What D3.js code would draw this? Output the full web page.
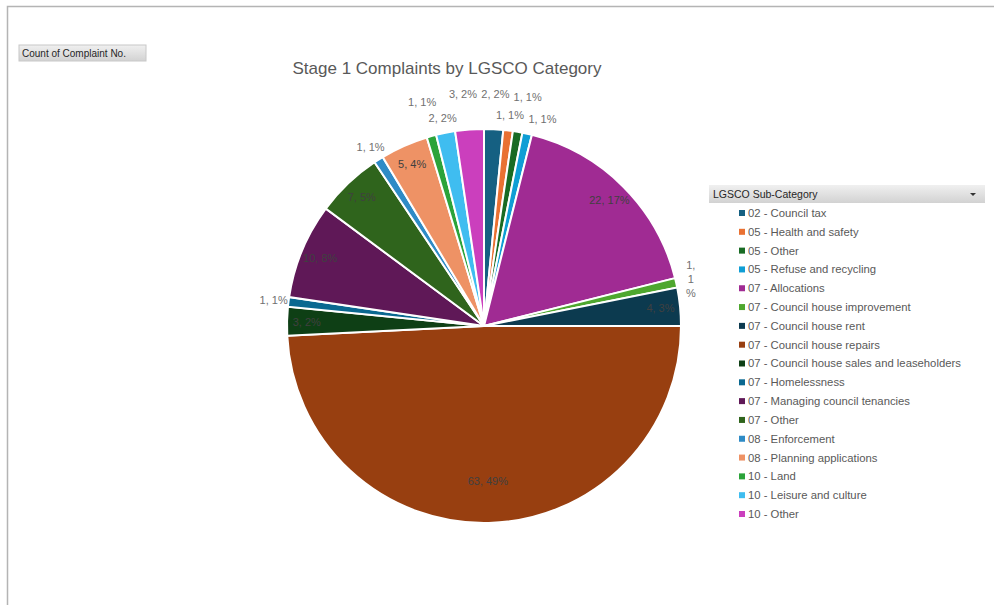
<!DOCTYPE html>
<html>
<head>
<meta charset="utf-8">
<script src="https://cdn.jsdelivr.net/npm/d3@7"></script>
<style>
  body { margin: 0; background: #fff; }
  text { font-family: "Liberation Sans", Arial, sans-serif; }
</style>
</head>
<body>
<div id="chart"></div>
<script>
// Data
const categories = [
  "02 - Council tax", "05 - Health and safety", "05 - Other", "05 - Refuse and recycling",
  "07 - Allocations", "07 - Council house improvement", "07 - Council house rent",
  "07 - Council house repairs", "07 - Council house sales and leaseholders",
  "07 - Homelessness", "07 - Managing council tenancies", "07 - Other",
  "08 - Enforcement", "08 - Planning applications", "10 - Land",
  "10 - Leisure and culture", "10 - Other"
];
const counts = [2, 1, 1, 1, 22, 1, 4, 63, 3, 1, 10, 7, 1, 5, 1, 2, 3];
const colors = [
  "#156082", "#e97132", "#196b24", "#0f9ed5", "#a02b93", "#4ea72e", "#0c3a4f",
  "#983f10", "#0e3f15", "#0a6890", "#5f1857", "#2f641c",
  "#2e8bc6", "#ee9265", "#2ba33a", "#3fbdf0", "#cb3fbd"
];
const chartTitle = "Stage 1 Complaints by LGSCO Category";
const fieldButton = "Count of Complaint No.";
const legendTitle = "LGSCO Sub-Category";

const width = 994, height = 605;
const cx = 484, cy = 326, radius = 197;
const plotRight = 697;

const svg = d3.select("#chart").append("svg")
  .attr("width", width)
  .attr("height", height);

// frame
svg.append("path")
  .attr("d", `M7.5,${height} V6.5 H${width}`)
  .attr("fill", "none")
  .attr("stroke", "#b4b4b4")
  .attr("stroke-width", 1.5);

const defs = svg.append("defs");
const grad = defs.append("linearGradient").attr("id", "hdr").attr("x1", 0).attr("x2", 0).attr("y1", 0).attr("y2", 1);
grad.append("stop").attr("offset", "0%").attr("stop-color", "#f0f0f0");
grad.append("stop").attr("offset", "100%").attr("stop-color", "#d2d2d2");

// field button
svg.append("rect")
  .attr("x", 19).attr("y", 45).attr("width", 127).attr("height", 16)
  .attr("fill", "url(#hdr)").attr("stroke", "#c8c8c8");
svg.append("text")
  .attr("x", 22).attr("y", 57)
  .attr("font-size", 10).attr("fill", "#262626")
  .text(fieldButton);

// title
svg.append("text")
  .attr("x", 447).attr("y", 74)
  .attr("text-anchor", "middle")
  .attr("font-size", 17).attr("fill", "#595959")
  .text(chartTitle);

const total = d3.sum(counts);
const data = counts.map((v, i) => ({ name: categories[i], value: v, color: colors[i] }));

const pie = d3.pie().sort(null).value(d => d.value);
const arcs = pie(data);
const arc = d3.arc().innerRadius(0).outerRadius(radius);

const g = svg.append("g").attr("transform", `translate(${cx},${cy})`);

g.selectAll("path")
  .data(arcs)
  .join("path")
  .attr("d", arc)
  .attr("fill", d => d.data.color)
  .attr("stroke", "#fff")
  .attr("stroke-width", 2);

// labels
const fmt = d => `${d.data.value}, ${Math.round(d.data.value / total * 100)}%`;
const labelSize = 11;
const lineH = 12;
const gap = 4;

const measurer = svg.append("text").attr("font-size", labelSize).attr("visibility", "hidden");
const measure = s => { measurer.text(s); return measurer.node().getComputedTextLength(); };

const labels = arcs.map(d => {
  const mid = (d.startAngle + d.endAngle) / 2;
  const txt = fmt(d);
  const w = measure(txt);
  const frac = d.data.value / total;
  const rr = frac > 0.25 ? radius * 0.79 : radius * 0.9;
  const need = w * Math.abs(Math.cos(mid)) + lineH * Math.abs(Math.sin(mid));
  const inside = rr * (d.endAngle - d.startAngle) >= need;
  return { d, mid, txt, w, inside, rr };
});

// inside labels
labels.filter(l => l.inside).forEach(l => {
  l.x = l.rr * Math.sin(l.mid);
  l.y = -l.rr * Math.cos(l.mid);
});

// outside labels: crowded ones prefer an outer ring, isolated ones sit close
const rIn = 212, rOut = 232;
const outs = labels.filter(l => !l.inside);
const at = (l, r) => ({ x: r * Math.sin(l.mid), y: -r * Math.cos(l.mid) });
const hit = (a, b) => Math.abs(a.x - b.x) < (a.w + b.w) / 2 + gap && Math.abs(a.y - b.y) < lineH + 2;
outs.forEach((l, i) => {
  const p = at(l, rIn);
  l.crowded = [outs[i - 1], outs[i + 1]].filter(Boolean).some(o => {
    const q = at(o, rIn);
    return hit({ ...p, w: l.w }, { ...q, w: o.w });
  });
});
const placed = [];
outs.forEach(l => {
  const rings = l.crowded ? [rOut, rIn] : [rIn];
  const dir = Math.sin(l.mid) >= 0 ? 1 : -1;
  let pos = null;
  for (const r of rings) {
    for (let s = 0; s <= 10 && !pos; s += 1) {
      const p = { ...at(l, r), w: l.w };
      p.x += dir * s;
      if (!placed.some(o => hit(p, o))) pos = p;
    }
    if (pos) break;
  }
  if (!pos) {
    pos = { ...at(l, rIn), w: l.w };
    while (placed.some(o => hit(pos, o))) pos.x += dir;
  }
  l.x = pos.x; l.y = pos.y;
  placed.push(pos);
});

const labelG = g.append("g").attr("font-size", labelSize);
labels.forEach(l => {
  const t = labelG.append("text")
    .attr("text-anchor", "middle")
    .attr("fill", l.inside ? "#404040" : "#707070")
    .attr("x", l.x);
  // wrap labels that run past the plot area
  let lines = [l.txt];
  if (!l.inside && cx + l.x + l.w / 2 > plotRight) {
    const maxW = plotRight - (cx + l.x) + 4;
    lines = [];
    let cur = "";
    for (const c of l.txt) {
      if (measure(cur + c) > maxW && cur.trim() !== "") { lines.push(cur.trim()); cur = c; }
      else cur += c;
    }
    if (cur.trim()) lines.push(cur.trim());
  }
  const lh = 14;
  const y0 = l.y - (lines.length - 1) * lh / 2;
  lines.forEach((s, k) => {
    t.append("tspan")
      .attr("x", l.x)
      .attr("y", y0 + k * lh)
      .attr("dy", "0.35em")
      .text(s);
  });
});
measurer.remove();

// legend
const lg = svg.append("g");
lg.append("rect")
  .attr("x", 709).attr("y", 185).attr("width", 276).attr("height", 18)
  .attr("fill", "url(#hdr)");
lg.append("text")
  .attr("x", 713).attr("y", 198)
  .attr("font-size", 10.5).attr("fill", "#262626")
  .text(legendTitle);
lg.append("path")
  .attr("d", "M970,193 h6 l-3,3 z")
  .attr("fill", "#333");

const ly = d3.scalePoint().domain(categories).range([213, 514]);
const items = lg.selectAll("g.item")
  .data(data)
  .join("g")
  .attr("class", "item")
  .attr("transform", d => `translate(739,${ly(d.name)})`);
items.append("rect")
  .attr("x", 0).attr("y", -3).attr("width", 6).attr("height", 6)
  .attr("fill", d => d.color);
items.append("text")
  .attr("x", 9).attr("dy", "0.35em")
  .attr("font-size", 11.3).attr("fill", "#595959")
  .text(d => d.name);
</script>
</body>
</html>
